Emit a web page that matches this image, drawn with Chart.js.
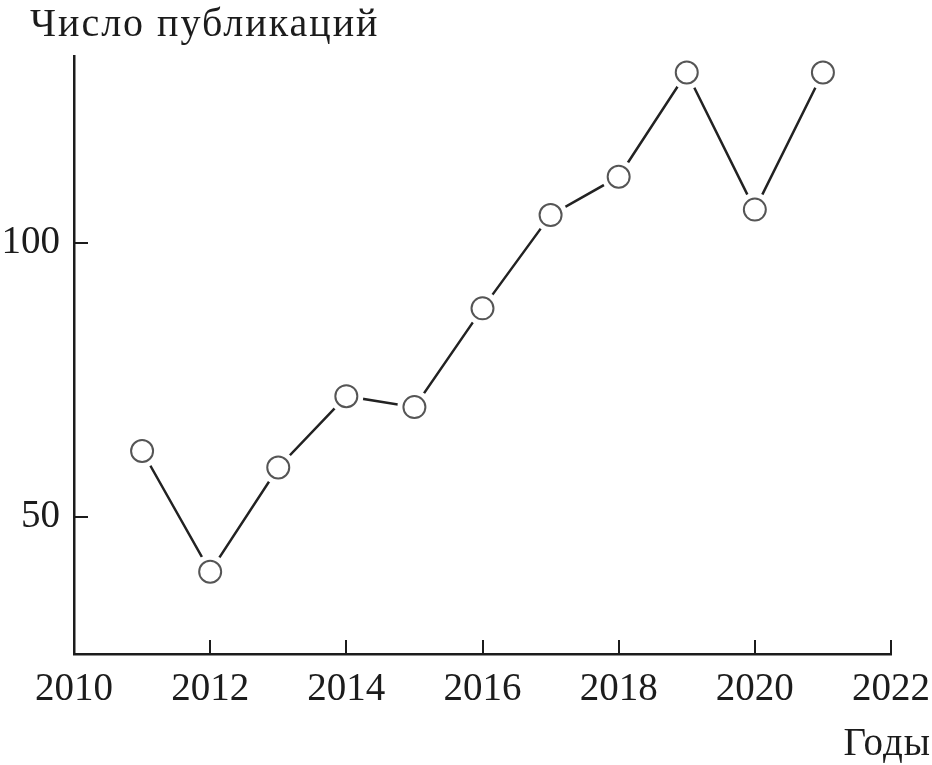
<!DOCTYPE html>
<html>
<head>
<meta charset="utf-8">
<script src="https://cdn.jsdelivr.net/npm/chart.js@4/dist/chart.umd.min.js"></script>
<style>
  html, body { margin: 0; background: #fff; }
</style>
</head>
<body>
<canvas id="chart" width="932" height="765"></canvas>
<script>
const years = [2011, 2012, 2013, 2014, 2015, 2016, 2017, 2018, 2019, 2020, 2021];
const counts = [62, 40, 59, 72, 70, 88, 105, 112, 131, 106, 131];
const xTickValues = [2010, 2012, 2014, 2016, 2018, 2020, 2022];
const yTickValues = [50, 100];
const yAxisTitle = "Число публикаций";
const xAxisTitle = "Годы";

const FONT = '"Liberation Serif", "DejaVu Serif", serif';
const INK = "#1c1c1c";

const points = years.map((y, i) => ({ x: y, y: counts[i] }));

// inward tick marks and the two axis captions
const extras = {
    id: "extras",
    afterDraw(chart) {
        const ctx = chart.ctx;
        const xs = chart.scales.x;
        const ys = chart.scales.y;
        const area = chart.chartArea;
        ctx.save();
        ctx.strokeStyle = INK;
        ctx.lineWidth = 2;
        xTickValues.forEach(v => {
            if (v === xs.min) return;
            const px = Math.round(xs.getPixelForValue(v));
            ctx.beginPath();
            ctx.moveTo(px, area.bottom);
            ctx.lineTo(px, area.bottom - 14);
            ctx.stroke();
        });
        yTickValues.forEach(v => {
            const py = Math.round(ys.getPixelForValue(v));
            ctx.beginPath();
            ctx.moveTo(area.left, py);
            ctx.lineTo(area.left + 14, py);
            ctx.stroke();
        });
        ctx.fillStyle = INK;
        ctx.font = "40px " + FONT;
        ctx.textBaseline = "alphabetic";
        ctx.textAlign = "left";
        ctx.letterSpacing = "2px";
        ctx.fillText(yAxisTitle, 30, 36);
        ctx.letterSpacing = "1px";
        ctx.font = "39px " + FONT;
        ctx.textAlign = "right";
        ctx.fillText(xAxisTitle, 931, 755);
        ctx.restore();
    }
};

new Chart(document.getElementById("chart"), {
    type: "line",
    data: {
        datasets: [
            {
                // hollow markers on top
                data: points,
                showLine: false,
                pointRadius: 11,
                pointBorderWidth: 2,
                pointBorderColor: "#555",
                pointBackgroundColor: "#fff",
                order: 1
            },
            {
                // the line, with white halos that leave gaps round each marker
                data: points,
                borderColor: "#222",
                borderWidth: 2.5,
                tension: 0,
                pointRadius: 17,
                pointBorderWidth: 0,
                pointBackgroundColor: "#fff",
                pointBorderColor: "#fff",
                order: 2
            }
        ]
    },
    options: {
        responsive: false,
        devicePixelRatio: 1,
        animation: false,
        events: [],
        layout: { padding: { top: 56, right: 41, left: 0, bottom: 0 } },
        plugins: {
            legend: { display: false },
            tooltip: { enabled: false }
        },
        scales: {
            x: {
                type: "linear",
                min: 2010,
                max: 2022,
                afterBuildTicks: s => { s.ticks = xTickValues.map(v => ({ value: v })); },
                afterFit: s => { s.height = 111; s.paddingLeft = 0; s.paddingRight = 0; },
                grid: { display: false, drawTicks: false },
                border: { display: true, color: INK, width: 2.5 },
                ticks: {
                    color: INK,
                    font: { family: FONT, size: 39 },
                    padding: 12,
                    maxRotation: 0,
                    autoSkip: false,
                    callback: v => String(v)
                }
            },
            y: {
                min: 25,
                max: 134,
                afterBuildTicks: s => { s.ticks = yTickValues.map(v => ({ value: v })); },
                afterFit: s => { s.width = 74; s.paddingTop = 0; s.paddingBottom = 0; },
                grid: { display: false, drawTicks: false },
                border: { display: true, color: INK, width: 2.5 },
                ticks: {
                    color: INK,
                    font: { family: FONT, size: 39 },
                    padding: 14,
                    callback: v => String(v)
                }
            }
        }
    },
    plugins: [extras]
});
</script>
</body>
</html>
